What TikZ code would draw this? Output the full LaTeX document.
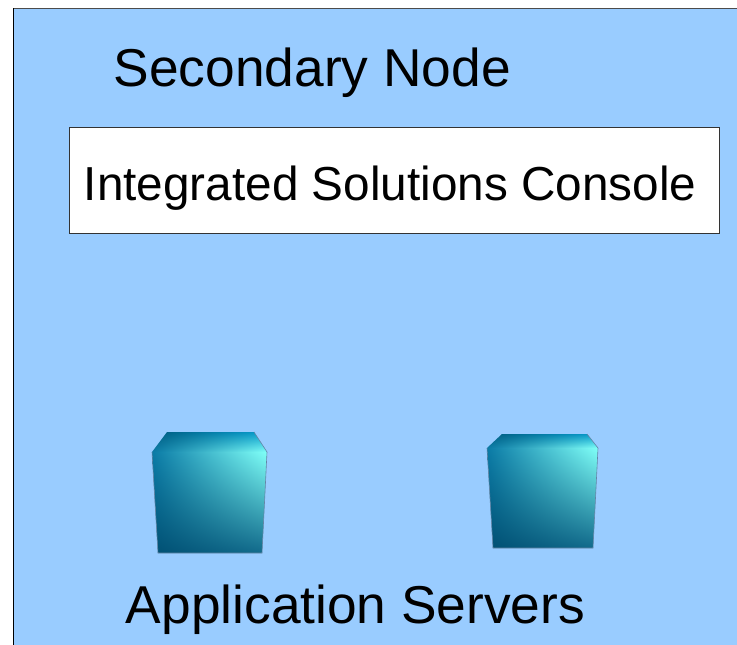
\documentclass[tikz,border=0pt]{standalone}
\usepackage{fontspec}
\setmainfont{Liberation Sans}
\definecolor{panelblue}{HTML}{99CCFF}
% bilinear colour: A + B u + C v + D u v; the path's box is the middle 25..75 of the shading
\pgfdeclarefunctionalshading{cubefront}{\pgfpoint{0bp}{0bp}}{\pgfpoint{100bp}{100bp}}{}{
  25 sub 50 div exch 25 sub 50 div exch
  1 index 1 index mul 0.39 mul 2 index 0.07 mul add 1 index 0.04 mul add 0.00 add
  2 index 2 index mul 0.41 mul 3 index 0.11 mul add 2 index 0.17 mul add 0.31 add
  3 index 3 index mul 0.22 mul 4 index 0.10 mul add 3 index 0.20 mul add 0.45 add
  5 -2 roll pop pop
}
\pgfdeclarefunctionalshading{cubetop}{\pgfpoint{0bp}{0bp}}{\pgfpoint{100bp}{100bp}}{}{
  25 sub 50 div exch 25 sub 50 div exch
  1 index 1 index mul -0.43 mul 2 index 0.46 mul add 1 index -0.04 mul add 0.04 add
  2 index 2 index mul -0.26 mul 3 index 0.52 mul add 2 index -0.12 mul add 0.48 add
  3 index 3 index mul -0.01 mul 4 index 0.32 mul add 3 index -0.15 mul add 0.65 add
  5 -2 roll pop pop
}
\tikzset{
  lbl/.style={anchor=base west,inner sep=0pt,font=\fontsize{53.3}{60}\selectfont,text=black},
  lblsmall/.style={lbl,font=\fontsize{47.7}{54}\selectfont},
  frontface/.style={shading=cubefront,draw=none},
  topface/.style={shading=cubetop,draw=none},
  sideedge/.style={draw=black!35!panelblue,line width=0.6pt},
}
\begin{document}
\begin{tikzpicture}[x=1pt,y=-1pt]
\useasboundingbox (0,0) rectangle (737,645);
\fill[white] (0,0) rectangle (737,645);
\fill[panelblue] (13,8) rectangle (737,645);
\draw[black!70,line width=1pt] (13,8.3) -- (737,8.3);
\draw[black,line width=1.2pt] (13.5,8) -- (13.5,645);
\node[lbl] (secondary) at (113.6,86.2) {Secondary Node};
\node[draw=black!80,line width=0.7pt,fill=white,minimum width=650pt,minimum height=106pt,anchor=north west,inner sep=0pt] (console) at (69,126.8) {};
\node[lblsmall] (consoletext) at (83.7,200.4) {Integrated Solutions Console};
% left cube
\path[topface] (167,432) -- (254,432) -- (267,452) -- (152,452) -- cycle;
\path[frontface] (152,452) -- (267,452) -- (262,553) -- (158,553) -- cycle;
\draw[sideedge] (152,452) -- (158,553) -- (262,553) -- (267,452) -- (254,432);
% right cube
\path[topface] (502,434) -- (587,434) -- (598,448) -- (487,448) -- cycle;
\path[frontface] (487,448) -- (598,448) -- (593,548) -- (493,548) -- cycle;
\draw[sideedge] (487,448) -- (493,548) -- (593,548) -- (598,448) -- (587,434);
\node[lbl] (servers) at (125.7,623) {Application Servers};
\end{tikzpicture}
\end{document}
